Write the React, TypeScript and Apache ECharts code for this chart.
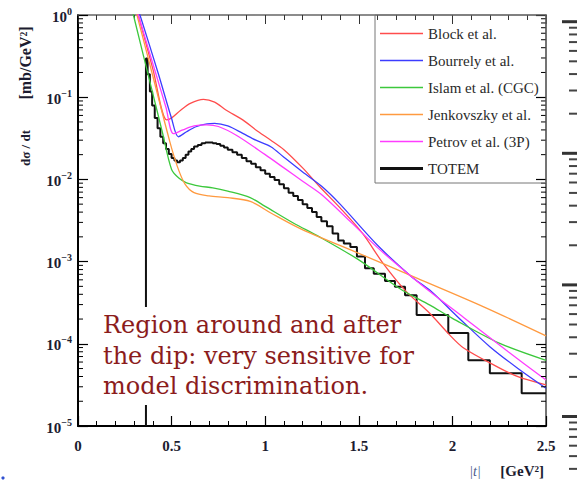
import React, { useEffect, useRef } from "react";
import * as echarts from "echarts";

// ---- data (t in GeV^2, dσ/dt in mb/GeV^2) ----
const seriesNames = [
  "Block et al.",
  "Bourrely et al.",
  "Islam et al. (CGC)",
  "Jenkovszky et al.",
  "Petrov et al. (3P)",
  "TOTEM",
];
const seriesColors = ["#ff4c4c", "#3c3cff", "#3cc83c", "#ff9a40", "#ff3cff", "#000000"];

const xTickValues = [0, 0.5, 1, 1.5, 2, 2.5];
const yDecadeValues = [1e-5, 1e-4, 1e-3, 1e-2, 1e-1, 1];

const blockData: [number, number][] = [
  [0.3, 1.5], [0.322, 1.0], [0.4, 0.22], [0.474, 0.053], [0.5, 0.056], [0.55, 0.07],
  [0.6, 0.084], [0.67, 0.094], [0.73, 0.087], [0.79, 0.07], [0.88, 0.053], [0.95, 0.04],
  [1.03, 0.03], [1.1, 0.023], [1.2, 0.0138], [1.29, 0.0082], [1.4, 0.0045], [1.52, 0.0022],
  [1.63, 0.00095], [1.75, 0.00044], [1.88, 0.000234], [1.98, 0.000132], [2.06, 0.000089],
  [2.24, 0.0000525], [2.35, 0.0000398], [2.5, 0.0000316],
];

const bourrelyData: [number, number][] = [
  [0.3, 1.6], [0.331, 1.0], [0.43, 0.19], [0.5, 0.055], [0.536, 0.033], [0.58, 0.038],
  [0.63, 0.0437], [0.69, 0.0473], [0.73, 0.048], [0.8, 0.0447], [0.88, 0.0363], [0.95, 0.03],
  [1.03, 0.025], [1.1, 0.0186], [1.2, 0.0123], [1.3, 0.0083], [1.4, 0.005], [1.6, 0.00158],
  [1.78, 0.00066], [1.88, 0.000447], [2.05, 0.000191], [2.2, 0.0000923], [2.35, 0.0000501],
  [2.5, 0.0000288],
];

const islamData: [number, number][] = [
  [0.27, 1.8], [0.296, 1.0], [0.4, 0.11], [0.45, 0.038], [0.5, 0.0132], [0.54, 0.0103],
  [0.58, 0.0091], [0.65, 0.0083], [0.72, 0.0079], [0.8, 0.0072], [0.92, 0.006], [1.0, 0.0047],
  [1.15, 0.00295], [1.29, 0.002], [1.5, 0.00105], [1.72, 0.000468], [1.88, 0.000295],
  [2.0, 0.000204], [2.25, 0.000102], [2.5, 0.000063],
];

const jenkovszkyData: [number, number][] = [
  [0.29, 1.6], [0.315, 1.0], [0.4, 0.18], [0.49, 0.029], [0.53, 0.0145], [0.57, 0.0089],
  [0.62, 0.0069], [0.7, 0.0063], [0.8, 0.006], [0.92, 0.0054], [1.03, 0.0039], [1.19, 0.0025],
  [1.5, 0.00126], [1.81, 0.00063], [2.17, 0.00028], [2.5, 0.000125],
];

const petrovData: [number, number][] = [
  [0.3, 1.5], [0.322, 1.0], [0.42, 0.18], [0.47, 0.075], [0.51, 0.036], [0.56, 0.04],
  [0.62, 0.0447], [0.687, 0.046], [0.75, 0.044], [0.85, 0.034], [1.0, 0.02], [1.1, 0.0138],
  [1.2, 0.0095], [1.31, 0.0063], [1.6, 0.00148], [1.78, 0.00066], [1.9, 0.000398],
  [2.06, 0.000209], [2.3, 0.0000794], [2.5, 0.0000363],
];

// TOTEM histogram: [left bin edge, value]
const totemBins: [number, number][] = [
  [0.363, 0.295], [0.372, 0.19], [0.384, 0.117], [0.396, 0.079], [0.41, 0.056], [0.425, 0.042],
  [0.44, 0.033], [0.455, 0.0275], [0.47, 0.0234], [0.485, 0.0204], [0.5, 0.0182], [0.515, 0.017],
  [0.53, 0.0162], [0.545, 0.017], [0.56, 0.0182], [0.575, 0.02], [0.59, 0.0219], [0.605, 0.0234],
  [0.62, 0.0251], [0.64, 0.0263], [0.66, 0.0275], [0.68, 0.0282], [0.7, 0.0282], [0.72, 0.0275],
  [0.74, 0.0269], [0.76, 0.0257], [0.78, 0.0245], [0.8, 0.0229], [0.825, 0.0214], [0.85, 0.02],
  [0.875, 0.0182], [0.9, 0.0166], [0.925, 0.0155], [0.95, 0.0141], [0.975, 0.0129], [1.0, 0.0117],
  [1.025, 0.0107], [1.05, 0.0098], [1.075, 0.0087], [1.1, 0.0078], [1.125, 0.0069], [1.15, 0.0063],
  [1.175, 0.0056], [1.2, 0.005], [1.225, 0.0045], [1.25, 0.004], [1.275, 0.0035], [1.3, 0.0031],
  [1.33, 0.0027], [1.36, 0.0022], [1.39, 0.0018], [1.42, 0.00166], [1.455, 0.00151], [1.49, 0.00115],
  [1.533, 0.00083], [1.58, 0.00071], [1.64, 0.00058], [1.693, 0.000495], [1.747, 0.00039],
  [1.809, 0.000224], [1.978, 0.000135], [2.085, 0.000063], [2.2, 0.0000437], [2.37, 0.0000251],
];
const totemLastEdge = 2.5;

const annotationLines = [
  "Region around and after",
  "the dip: very sensitive for",
  "model discrimination.",
];

// ---- layout ----
const GRID = { left: 78, top: 15, width: 468, height: 411 };
const SERIF = '"Liberation Serif", "Times New Roman", serif';

export default function App() {
  const ref = useRef<HTMLDivElement>(null);

  useEffect(() => {
    if (!ref.current) return;
    const chart = echarts.init(ref.current, undefined, { renderer: "svg" });

    const modelData = [blockData, bourrelyData, islamData, jenkovszkyData, petrovData];

    const totemData: [number, number][] = [
      [totemBins[0][0], yDecadeValues[0]],
      ...totemBins,
      [totemLastEdge, totemBins[totemBins.length - 1][1]],
    ];

    // log minor ticks 2..9 x 10^k
    const minorTickValues: number[][] = [];
    for (let i = 0; i < yDecadeValues.length - 1; i++) {
      for (let m = 2; m <= 9; m++) minorTickValues.push([0, m * yDecadeValues[i]]);
    }

    const expLabel = (v: number) => {
      const e = Math.round(Math.log10(v));
      const s = e === 0 ? "0" : "\u2212" + String(-e);
      return `{b|10}{s|${s}}`;
    };

    const series: any[] = modelData.map((d, i) => ({
      name: seriesNames[i],
      type: "line",
      data: d,
      symbol: "none",
      smooth: 0.3,
      lineStyle: { width: 1.3, color: seriesColors[i] },
      itemStyle: { color: seriesColors[i] },
      z: 3,
    }));
    series.unshift({
      name: seriesNames[5],
      type: "line",
      data: totemData,
      step: "end",
      symbol: "none",
      lineStyle: { width: 2, color: "#111" },
      itemStyle: { color: "#111" },
      z: 2,
    });
    series.push({
      type: "custom",
      silent: true,
      data: minorTickValues,
      z: 5,
      clip: false,
      renderItem: (params: any, api: any) => {
        const v = api.value(1);
        const pl = api.coord([0, v]);
        const pr = api.coord([2.5, v]);
        return {
          type: "group",
          children: [
            { type: "line", shape: { x1: pl[0], y1: pl[1], x2: pl[0] + 5, y2: pl[1] }, style: { stroke: "#000", lineWidth: 1 } },
            { type: "line", shape: { x1: pr[0] - 5, y1: pr[1], x2: pr[0], y2: pr[1] }, style: { stroke: "#000", lineWidth: 1 } },
          ],
        };
      },
    });

    // decorative tick marks of the neighbouring panel at the right edge
    const sideTicks: any[] = [];
    const sideTop = 21.7;
    const sideDecade = 131.6;
    for (let g = 0; g < 4; g++) {
      const y0 = sideTop + g * sideDecade;
      sideTicks.push({ type: "line", shape: { x1: 562, y1: y0, x2: 577, y2: y0 }, style: { stroke: "#333", lineWidth: 3 } });
      for (let m = 9; m >= 2; m--) {
        const y = y0 + sideDecade * Math.log10(10 / m);
        sideTicks.push({ type: "line", shape: { x1: 569, y1: y, x2: 577, y2: y }, style: { stroke: "#444", lineWidth: 2 } });
      }
    }

    const baselines = [333, 364, 394];

    const legendData = seriesNames.map((n) => ({
      name: n,
      icon: n === "TOTEM" ? "path://M0,0h43v3h-43z" : "path://M0,0h43v1.3h-43z",
    }));

    const option: any = {
      animation: false,
      backgroundColor: "#fff",
      grid: { ...GRID, containLabel: false },
      legend: {
        data: legendData,
        orient: "vertical",
        left: 375,
        top: 15,
        padding: [11, 6, 12, 5],
        itemGap: 12,
        itemWidth: 43,
        itemHeight: 14,
        symbolKeepAspect: true,
        selectedMode: false,
        textStyle: { fontFamily: SERIF, fontSize: 15, color: "#2a2a2a", lineHeight: 14 },
        z: 20,
      },
      xAxis: [
        {
          type: "value",
          min: 0,
          max: 2.5,
          interval: 0.5,
          position: "bottom",
          axisLine: { show: true, onZero: false, lineStyle: { color: "#000", width: 2 } },
          axisTick: { show: true, inside: true, length: 10, lineStyle: { color: "#000", width: 1.2 } },
          minorTick: { show: true, splitNumber: 5, length: 5, lineStyle: { color: "#000", width: 1 } },
          splitLine: { show: false },
          axisLabel: {
            margin: 12,
            fontFamily: SERIF,
            fontWeight: "bold",
            fontSize: 15,
            color: "#1c1c30",
            formatter: (v: number) => (xTickValues.includes(v) ? String(v) : ""),
          },
        },
        {
          type: "value",
          min: 0,
          max: 2.5,
          interval: 0.5,
          position: "top",
          axisLine: { show: true, onZero: false, lineStyle: { color: "#666", width: 1.5 } },
          axisTick: { show: true, inside: true, length: 9, lineStyle: { color: "#333", width: 1 } },
          minorTick: { show: true, splitNumber: 5, length: 5, lineStyle: { color: "#333", width: 1 } },
          splitLine: { show: false },
          axisLabel: { show: false },
        },
      ],
      yAxis: [
        {
          type: "log",
          logBase: 10,
          min: 1e-5,
          max: 1,
          position: "left",
          axisLine: { show: true, onZero: false, lineStyle: { color: "#000", width: 2 } },
          axisTick: { show: true, inside: true, length: 10, lineStyle: { color: "#000", width: 1.2 } },
          minorTick: { show: false },
          splitLine: { show: false },
          axisLabel: {
            margin: 6,
            formatter: expLabel,
            rich: {
              b: { fontFamily: SERIF, fontWeight: "bold", fontSize: 15, color: "#1c1c30", lineHeight: 18, verticalAlign: "bottom" },
              s: { fontFamily: SERIF, fontWeight: "bold", fontSize: 10, color: "#1c1c30", lineHeight: 18, verticalAlign: "top" },
            },
          },
        },
        {
          type: "log",
          logBase: 10,
          min: 1e-5,
          max: 1,
          position: "right",
          axisLine: { show: true, onZero: false, lineStyle: { color: "#444", width: 1.5 } },
          axisTick: { show: true, inside: true, length: 10, lineStyle: { color: "#000", width: 1.2 } },
          splitLine: { show: false },
          axisLabel: { show: false },
        },
      ],
      series,
      graphic: [
        {
          type: "rect",
          z: 15,
          shape: { x: 375, y: 15, width: 171, height: 168 },
          style: { fill: "rgba(255,255,255,0)", stroke: "#777", lineWidth: 1 },
          silent: true,
        },
        {
          type: "rect",
          z: 40,
          shape: { x: 100, y: 307, width: 300, height: 98 },
          style: { fill: "#fff" },
          silent: true,
        },
        ...annotationLines.map((t, i) => ({
          type: "text",
          z: 41,
          x: 103,
          y: baselines[i] - 8.3,
          style: {
            text: t,
            font: '24px "DejaVu Serif", serif',
            fill: "#8b1c1c",
            align: "left",
            verticalAlign: "middle",
          },
        })),
        {
          type: "text",
          x: 25,
          y: 148,
          rotation: Math.PI / 2,
          style: { text: "dσ / dt", font: 'bold 13px ' + SERIF, fill: "#1c1c30", align: "center", verticalAlign: "middle" },
        },
        {
          type: "text",
          x: 25,
          y: 63,
          rotation: Math.PI / 2,
          style: { text: "[mb/GeV²]", font: 'bold 16px ' + SERIF, fill: "#1c1c30", align: "center", verticalAlign: "middle" },
        },
        {
          type: "text",
          x: 475,
          y: 471,
          style: { text: "|t|", font: 'italic 14px ' + SERIF, fill: "#4a5a8a", align: "center", verticalAlign: "middle" },
        },
        {
          type: "text",
          x: 544,
          y: 471,
          style: { text: "[GeV²]", font: 'bold 15px ' + SERIF, fill: "#1c1c30", align: "right", verticalAlign: "middle" },
        },
        {
          type: "circle",
          shape: { cx: 3, cy: 478, r: 1.6 },
          style: { fill: "#3050d0" },
        },
        ...sideTicks,
      ],
    };

    chart.setOption(option);
    return () => chart.dispose();
  }, []);

  return (
    <div
      ref={ref}
      style={{ position: "absolute", left: 0, top: 0, width: 577, height: 484, background: "#fff" }}
    />
  );
}
